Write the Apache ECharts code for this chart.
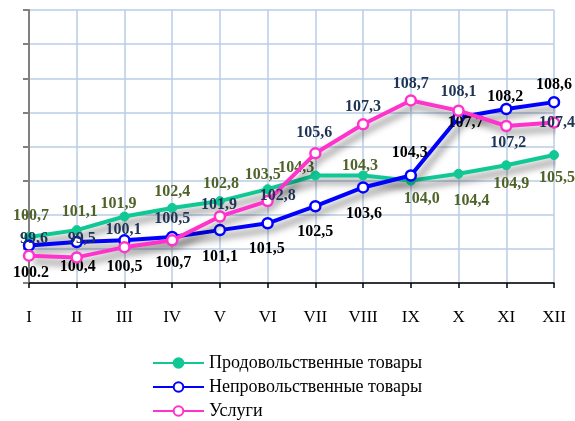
<!DOCTYPE html>
<html>
<head>
<meta charset="utf-8">
<script src="https://cdn.jsdelivr.net/npm/echarts@6/dist/echarts.min.js"></script>
<style>
html,body{margin:0;padding:0;background:#fff;}
#chart{width:575px;height:421px;}
</style>
</head>
<body>
<div id="chart"></div>
<script>
// ---- data ----
var categories = ['I','II','III','IV','V','VI','VII','VIII','IX','X','XI','XII'];
var seriesNames = ['Продовольственные товары','Непровольственные товары','Услуги'];
var foodValues    = [100.7,101.1,101.9,102.4,102.8,103.5,104.3,104.3,104.0,104.4,104.9,105.5];
var nonFoodValues = [100.2,100.4,100.5,100.7,101.1,101.5,102.5,103.6,104.3,107.7,108.2,108.6];
var serviceValues = [99.6,99.5,100.1,100.5,101.9,102.8,105.6,107.3,108.7,108.1,107.2,107.4];
var foodLabels    = ['100,7','101,1','101,9','102,4','102,8','103,5','104,3','104,3','104,0','104,4','104,9','105,5'];
var nonFoodLabels = ['100.2','100,4','100,5','100,7','101,1','101,5','102,5','103,6','104,3','107,7','108,2','108,6'];
var serviceLabels = ['99,6','99,5','100,1','100,5','101,9','102,8','105,6','107,3','108,7','108,1','107,2','107,4'];

// ---- label placement (style, offsets from point centre) ----
var foodOff    = [[2,-21],[3,-18],[-6,-13],[0,-16],[1,-17],[-5,-14],[-19,-8],[-3,-10],[11,18],[13,27],[5,19],[3,23]];
var nonFoodOff = [[2,27],[1,25],[0,27],[1,26],[0,27],[-1,26],[0,26],[1,26],[-1,-23],[7,5],[-1,-12],[0,-17]];
var serviceOff = [[5,-17],[5,-19],[-1,-17],[0,-21],[-1,-12],[10,-5],[-1,-20],[0,-17],[0,-17],[0,-19],[2,17],[3,0]];

function build(values, offs){
  return values.map(function(v,i){ return {value:v, label:{offset:offs[i]}}; });
}

var labelFont = {fontFamily:'Liberation Serif', fontWeight:'bold', fontSize:16};
var shadow = {shadowColor:'rgba(0,0,0,0.5)', shadowBlur:7, shadowOffsetX:4, shadowOffsetY:6};

var chart = echarts.init(document.getElementById('chart'), null, {renderer:'canvas'});
chart.setOption({
  animation:false,
  backgroundColor:'#ffffff',
  grid:{left:29, right:21, top:10, bottom:138, containLabel:false},
  xAxis:{
    type:'category', data:categories, boundaryGap:false,
    axisLine:{lineStyle:{color:'#000', width:1.5}},
    axisTick:{show:true, length:5, lineStyle:{color:'#000', width:1.5}},
    axisLabel:{color:'#000', fontFamily:'Liberation Serif', fontSize:17, margin:26},
    splitLine:{show:true, lineStyle:{color:'#B9CDE5', width:1.5}}
  },
  yAxis:{
    type:'value', min:98, max:114, interval:2,
    axisLine:{show:true, lineStyle:{color:'#808080', width:2}},
    axisTick:{show:true, length:6, lineStyle:{color:'#808080', width:2}},
    axisLabel:{show:false},
    splitLine:{show:true, lineStyle:{color:'#B9CDE5', width:1.5}}
  },
  legend:{
    orient:'vertical', left:152, top:354, padding:0, itemWidth:51, itemHeight:12, itemGap:6,
    textStyle:{color:'#000', fontFamily:'Liberation Serif', fontSize:18, padding:[0,0,0,0]},
    data:seriesNames
  },
  series:[
    {
      name:seriesNames[0], type:'line', data:build(foodValues, foodOff),
      symbol:'circle', symbolSize:9,
      lineStyle:Object.assign({color:'#10C894', width:4}, shadow),
      itemStyle:{color:'#10C894', borderColor:'#10C894', borderWidth:1},
      label:Object.assign({show:true, position:'inside', color:'#4F6228',
        formatter:function(p){return foodLabels[p.dataIndex];}}, labelFont),
      z:2
    },
    {
      name:seriesNames[1], type:'line', data:build(nonFoodValues, nonFoodOff),
      symbol:'circle', symbolSize:10,
      lineStyle:Object.assign({color:'#0000FF', width:4}, shadow),
      itemStyle:{color:'#ffffff', borderColor:'#0000FF', borderWidth:2.5},
      label:Object.assign({show:true, position:'inside', color:'#000000',
        formatter:function(p){return nonFoodLabels[p.dataIndex];}}, labelFont),
      z:3
    },
    {
      name:seriesNames[2], type:'line', data:build(serviceValues, serviceOff),
      symbol:'circle', symbolSize:10,
      lineStyle:Object.assign({color:'#FF33CC', width:4}, shadow),
      itemStyle:{color:'#ffffff', borderColor:'#FF33CC', borderWidth:2.5},
      label:Object.assign({show:true, position:'inside', color:'#1F3354',
        formatter:function(p){return serviceLabels[p.dataIndex];}}, labelFont),
      z:4
    }
  ]
});
</script>
</body>
</html>
